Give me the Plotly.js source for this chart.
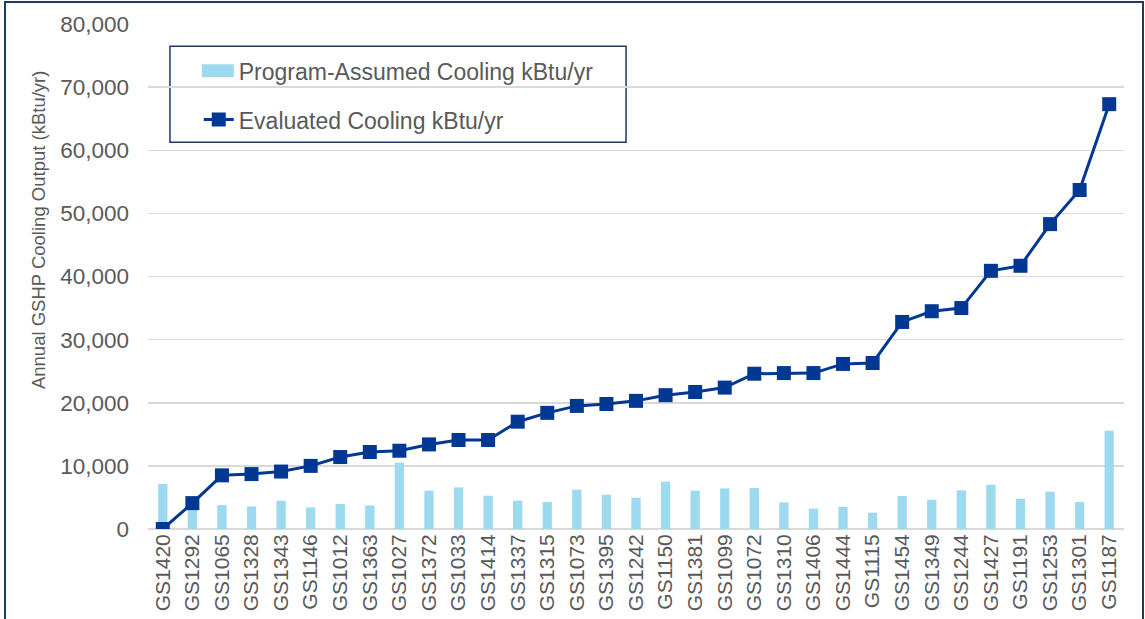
<!DOCTYPE html>
<html>
<head>
<meta charset="utf-8">
<script src="https://cdn.plot.ly/plotly-3.0.1.min.js"></script>
<style>
  body { margin: 0; background: #fff; }
  #wrap { position: relative; width: 1145px; height: 619px; }
  #chart { width: 1145px; height: 619px; }
  #frame {
    position: absolute; left: 4px; top: 1px; width: 1136px; height: 640px;
    border: 2px solid #1F3864; pointer-events: none;
  }
</style>
</head>
<body>
<div id="wrap">
  <div id="chart"></div>
  <div id="frame"></div>
</div>
<script>
const sites = ["GS1420", "GS1292", "GS1065", "GS1328", "GS1343", "GS1146", "GS1012", "GS1363",
  "GS1027", "GS1372", "GS1033", "GS1414", "GS1337", "GS1315", "GS1073", "GS1395", "GS1242",
  "GS1150", "GS1381", "GS1099", "GS1072", "GS1310", "GS1406", "GS1444", "GS1115", "GS1454",
  "GS1349", "GS1244", "GS1427", "GS1191", "GS1253", "GS1301", "GS1187"];

const programAssumed = [7130, 4500, 3800, 3580, 4490, 3420, 3960, 3740,
  10510, 6070, 6600, 5280, 4490, 4280, 6230, 5440, 4960,
  7500, 6070, 6430, 6480, 4220, 3220, 3530, 2580, 5230,
  4640, 6120, 7020, 4800, 5910, 4280, 15580];

const evaluated = [0, 4100, 8500, 8700, 9100, 10000, 11400, 12200,
  12400, 13400, 14100, 14100, 17000, 18400, 19500, 19800, 20300,
  21200, 21700, 22400, 24600, 24700, 24700, 26150, 26300, 32800,
  34500, 35000, 40900, 41700, 48300, 53700, 67300];

const yTicks = [0, 10000, 20000, 30000, 40000, 50000, 60000, 70000, 80000];

const textGrey = "#595959";

const traces = [
  {
    type: "bar",
    name: "Program-Assumed Cooling kBtu/yr",
    x: sites,
    y: programAssumed,
    marker: { color: "#9DD9EF" },
    legendgroup: "a"
  },
  {
    type: "scatter",
    mode: "lines+markers",
    name: "Evaluated Cooling kBtu/yr",
    x: sites,
    y: evaluated,
    line: { color: "#003893", width: 3 },
    marker: { symbol: "square", size: 14, color: "#003893" },
    legendgroup: "b"
  }
];

const layout = {
  width: 1145,
  height: 619,
  margin: { l: 148, r: 21, t: 24, b: 90 },
  paper_bgcolor: "#fff",
  plot_bgcolor: "#fff",
  font: { family: "Liberation Sans, Arial, sans-serif", color: textGrey },
  bargap: 0.685,
  showlegend: true,
  legend: {
    x: 0.052, y: 0.95, xanchor: "left", yanchor: "top",
    bgcolor: "rgba(0,0,0,0)",
    font: { size: 23, color: textGrey },
    traceorder: "grouped",
    tracegroupgap: 16
  },
  shapes: [{
    type: "rect", xref: "paper", yref: "paper",
    x0: 0.0225, x1: 0.4898, y0: 0.766, y1: 0.956,
    line: { color: "#1F3864", width: 1.5 },
    fillcolor: "#fff",
    layer: "below"
  }],
  // axis title drawn as an annotation: it sits above the plot's centre in the original
  annotations: [{
    text: "Annual GSHP Cooling Output (kBtu/yr)",
    xref: "paper", yref: "paper",
    x: -0.1127, y: 0.592,
    xanchor: "center", yanchor: "middle",
    textangle: -90,
    showarrow: false,
    font: { size: 18.5, color: textGrey }
  }],
  xaxis: {
    type: "category",
    range: [-0.5, sites.length - 0.5],
    tickangle: -90,
    tickfont: { size: 21, color: textGrey },
    showgrid: false,
    showline: false,
    ticks: ""
  },
  yaxis: {
    range: [0, 80000],
    tickvals: yTicks,
    tickformat: ",d",
    tickfont: { size: 22.5, color: textGrey },
    gridcolor: "#D9D9D9",
    gridwidth: 1.5,
    zeroline: true,
    zerolinecolor: "#D9D9D9",
    zerolinewidth: 2,
    ticks: "",
    ticklabelstandoff: 18,
    automargin: false
  }
};

Plotly.newPlot("chart", traces, layout, { displayModeBar: false, staticPlot: true }).then(gd => {
  // widen the bar swatch in the legend, like the original
  const sw = gd.querySelector(".legend .traces .legendpoints path");
  if (sw) sw.setAttribute("d", "M15,6.5H-17V-6.5H15Z");
});
</script>
</body>
</html>
